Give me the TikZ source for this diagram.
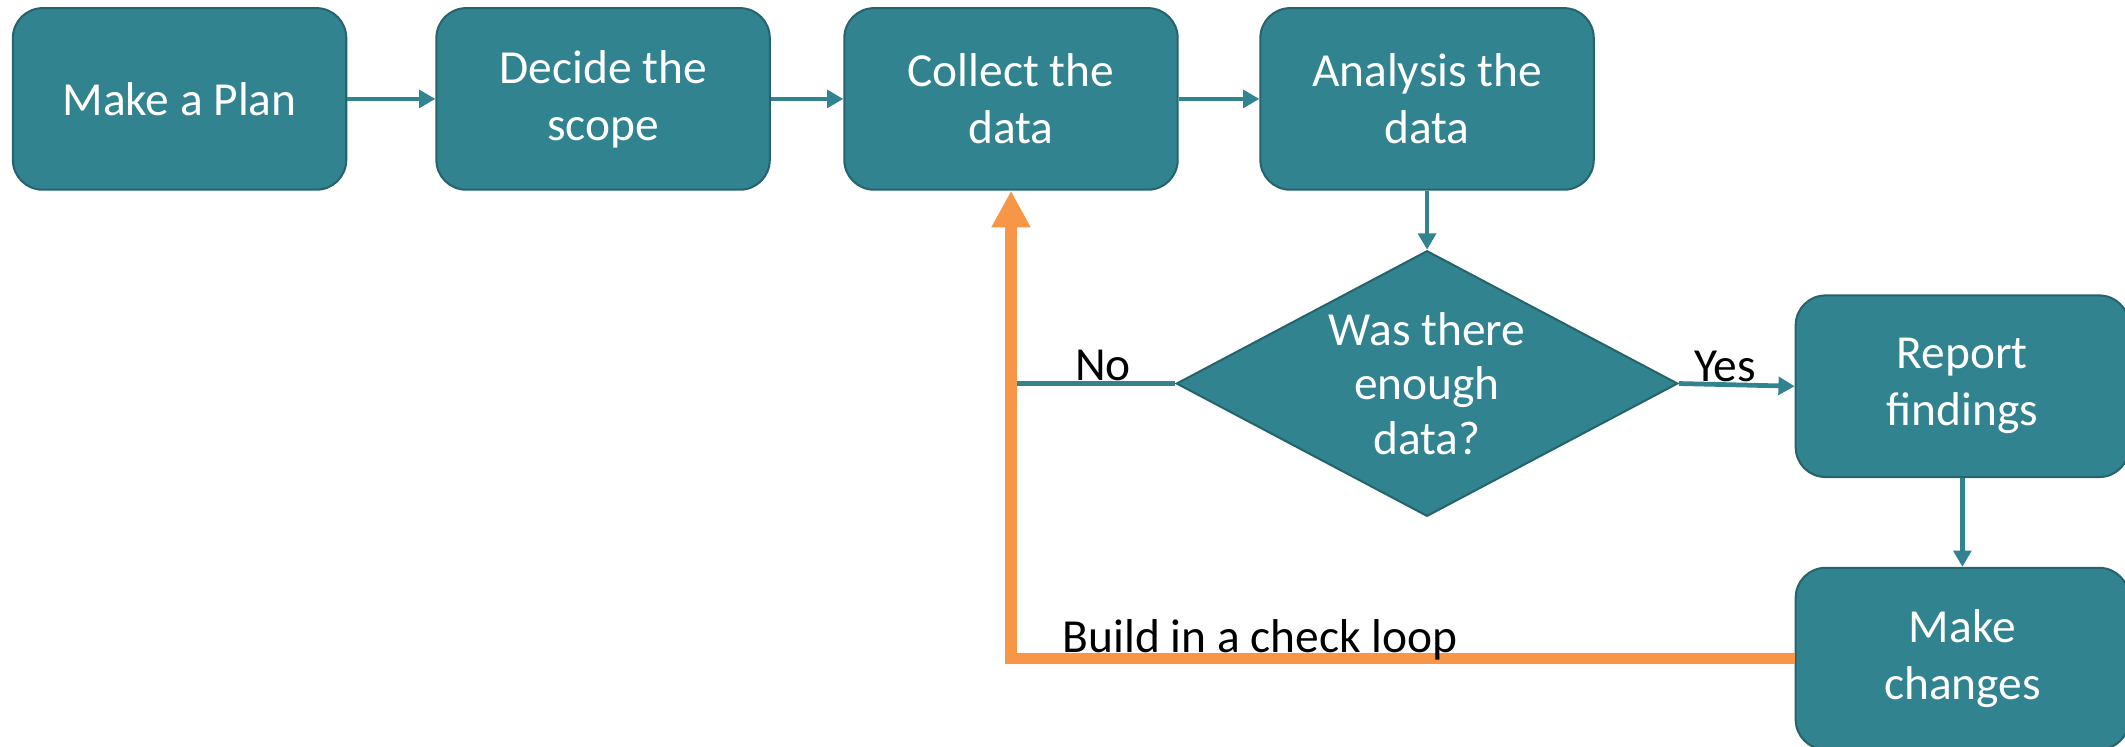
\documentclass[tikz,border=0pt]{standalone}
\usepackage{fontspec}
\setmainfont{Carlito}
\usetikzlibrary{shapes.geometric,arrows.meta}
\definecolor{tealfill}{RGB}{49,131,143}
\definecolor{tealedge}{RGB}{38,100,109}
\definecolor{looporange}{RGB}{247,150,70}
\begin{document}
\begin{tikzpicture}[x=1pt,y=-1pt,
    stepbox/.style={draw=tealedge, line width=1.5pt, fill=tealfill, rounded corners=22pt,
      minimum width=246pt, minimum height=134pt, inner sep=0pt,
      text=white, align=center, font=\fontsize{35}{42}\selectfont},
    decision/.style={draw=tealedge, line width=1.5pt, fill=tealfill, diamond,
      minimum width=370pt, minimum height=196pt, inner sep=0pt},
    flow/.style={draw=tealfill, line width=3.5pt, -{Triangle[width=13pt,length=12pt]}},
    checkloop/.style={draw=looporange, line width=8.6pt, -{Triangle[width=27pt,length=27pt]}},
    tag/.style={text=black, font=\fontsize{35}{42}\selectfont, inner sep=0pt, anchor=base}]
    \useasboundingbox (0,0) rectangle (1568,550.5);
    % top row
    \node[stepbox] (plan) at (132.5,73) {Make a Plan};
    \node[stepbox] (scope) at (445,73) {Decide the\\scope};
    \node[stepbox] (collect) at (746,73) {Collect the\\data};
    \node[stepbox] (analyse) at (1053,73) {Analysis the\\data};
    % decision and right column
    \node[decision, label={[text=white, align=center, font=\fontsize{35}{40}\selectfont]center:Was there\\enough\\data?}] (enough) at (1053,283) {};
    \node[stepbox] (report) at (1448,285) {Report\\findings};
    \node[stepbox] (changes) at (1448,486) {Make\\changes};
    \coordinate (nojoin) at (collect.south |- enough.west);
    % connectors
    \draw[flow] (plan) -- (scope);
    \draw[flow] (scope) -- (collect);
    \draw[flow] (collect) -- (analyse);
    \draw[flow] (analyse) -- (enough.north);
    \draw[flow] (enough.east) -- node[tag, pos=0.4, yshift=2pt] {Yes} (report.west);
    \draw[flow] (report) -- (changes);
    \draw[draw=tealfill, line width=3.5pt] (enough.west) -- node[tag, pos=0.44, yshift=2pt] {No} (nojoin);
    \draw[checkloop] (changes.west) -| node[tag, pos=0.341, yshift=4.5pt] {Build in a check loop} (collect.south);
\end{tikzpicture}
\end{document}
